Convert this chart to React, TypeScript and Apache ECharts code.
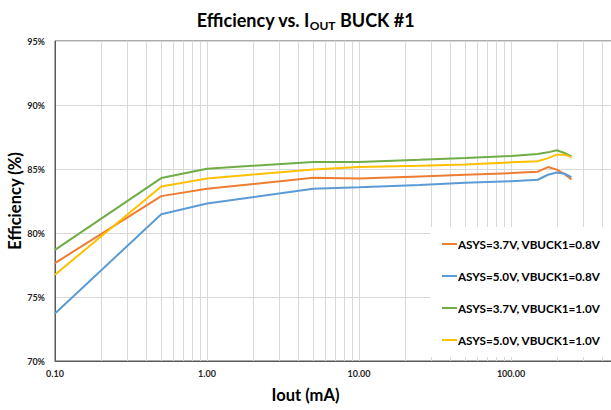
import React, { useEffect, useRef } from "react";
import * as echarts from "echarts";

const currents = [0.1, 0.5, 1, 5, 10, 25, 50, 100, 150, 175, 200, 225, 250];
const seriesNames = [
  "ASYS=3.7V, VBUCK1=0.8V",
  "ASYS=5.0V, VBUCK1=0.8V",
  "ASYS=3.7V, VBUCK1=1.0V",
  "ASYS=5.0V, VBUCK1=1.0V",
];
const orange37_08 = [77.65, 82.88, 83.45, 84.32, 84.26, 84.42, 84.55, 84.68, 84.79, 85.15, 84.95, 84.6, 84.18];
const blue50_08 = [73.71, 81.47, 82.3, 83.46, 83.58, 83.75, 83.92, 84.05, 84.16, 84.55, 84.73, 84.63, 84.37];
const green37_10 = [78.68, 84.29, 85.02, 85.55, 85.55, 85.72, 85.86, 86.01, 86.18, 86.3, 86.46, 86.25, 85.99];
const yellow50_10 = [76.74, 83.64, 84.26, 84.97, 85.15, 85.25, 85.36, 85.52, 85.6, 85.85, 86.12, 86.12, 85.93];
const colors = ["#ED7D31", "#5B9BD5", "#70AD47", "#FFC000"];
const minorGrid = [
  0.2, 0.3, 0.4, 0.5, 0.6, 0.7, 0.8, 0.9,
  2, 3, 4, 5, 6, 7, 8, 9,
  20, 30, 40, 50, 60, 70, 80, 90,
  200, 300, 400, 500, 600, 700, 800, 900,
];

const FONT = "Lato";

export default function App() {
  const ref = useRef<HTMLDivElement>(null);
  useEffect(() => {
    if (!ref.current) return;
    const chart = echarts.init(ref.current, null, { renderer: "svg" });
    const all = [orange37_08, blue50_08, green37_10, yellow50_10];
    chart.setOption({
      animation: false,
      backgroundColor: "#fff",
      textStyle: { fontFamily: FONT },
      title: {
        left: "center",
        top: 4,
        text: "{a|Efficiency vs. I}{s|OUT}{a| BUCK #1}",
        textStyle: {
          rich: {
            a: { fontSize: 18, fontWeight: "bold", color: "#000", fontFamily: FONT, lineHeight: 22, verticalAlign: "middle" },
            s: { fontSize: 12, fontWeight: "bold", color: "#000", fontFamily: FONT, lineHeight: 8, verticalAlign: "bottom" },
          },
        },
      },
      grid: {
        left: 55,
        top: 41,
        bottom: 49,
        right: -52,
        outerBoundsMode: "none",
        containLabel: false,
        show: true,
        borderColor: "#595959",
        borderWidth: 1,
      },
      legend: {
        orient: "vertical",
        left: 430,
        top: 227,
        padding: [10, 14, 10, 12],
        backgroundColor: "#fff",
        icon: "rect",
        itemWidth: 15,
        itemHeight: 2,
        itemGap: 18,
        textStyle: {
          fontSize: 11.7,
          fontWeight: "bold",
          color: "#000",
          fontFamily: FONT,
          lineHeight: 14,
          padding: [0, 0, 0, -4],
        },
        data: seriesNames,
      },
      xAxis: {
        type: "log",
        logBase: 10,
        min: 0.1,
        max: 1000,
        axisLine: { show: true, lineStyle: { color: "#595959" } },
        axisTick: { show: false },
        axisLabel: {
          fontSize: 9,
          fontWeight: "bold",
          color: "#262626",
          margin: 8,
          formatter: (v: number) => (v > 500 ? "" : v.toFixed(2)),
        },
        splitLine: { show: true, lineStyle: { color: "#d9d9d9", width: 1 } },
      },
      yAxis: {
        type: "value",
        min: 70,
        max: 95,
        interval: 5,
        axisLine: { show: true, lineStyle: { color: "#595959" } },
        axisTick: { show: false },
        axisLabel: {
          fontSize: 9,
          fontWeight: "bold",
          color: "#262626",
          margin: 10,
          formatter: (v: number) => `${v}%`,
        },
        splitLine: { show: true, lineStyle: { color: "#d9d9d9", width: 1 } },
      },
      graphic: [
        {
          type: "text",
          left: "center",
          top: 386,
          style: { text: "Iout (mA)", fontSize: 16.5, fontWeight: "bold", fill: "#000", fontFamily: FONT },
        },
        {
          type: "text",
          x: 15,
          y: 201,
          rotation: Math.PI / 2,
          style: {
            text: "Efficiency (%)",
            fontSize: 16.5,
            fontWeight: "bold",
            fill: "#000",
            fontFamily: FONT,
            align: "center",
            verticalAlign: "middle",
          },
        },
      ],
      series: all.map((vals, i) => ({
        name: seriesNames[i],
        type: "line",
        data: currents.map((c, j) => [c, vals[j]]),
        symbol: "none",
        showSymbol: false,
        lineStyle: { color: colors[i], width: 2 },
        itemStyle: { color: colors[i] },
        z: 3,
        markLine:
          i === 0
            ? {
                silent: true,
                symbol: ["none", "none"],
                label: { show: false },
                lineStyle: { color: "#d9d9d9", type: "solid", width: 1 },
                emphasis: { disabled: true },
                data: minorGrid.map((v) => ({ xAxis: v })),
                z: 1,
              }
            : undefined,
      })),
    });
    return () => chart.dispose();
  }, []);
  return (
    <div
      ref={ref}
      style={{ position: "fixed", left: 0, top: 0, width: 611, height: 410 }}
    />
  );
}
